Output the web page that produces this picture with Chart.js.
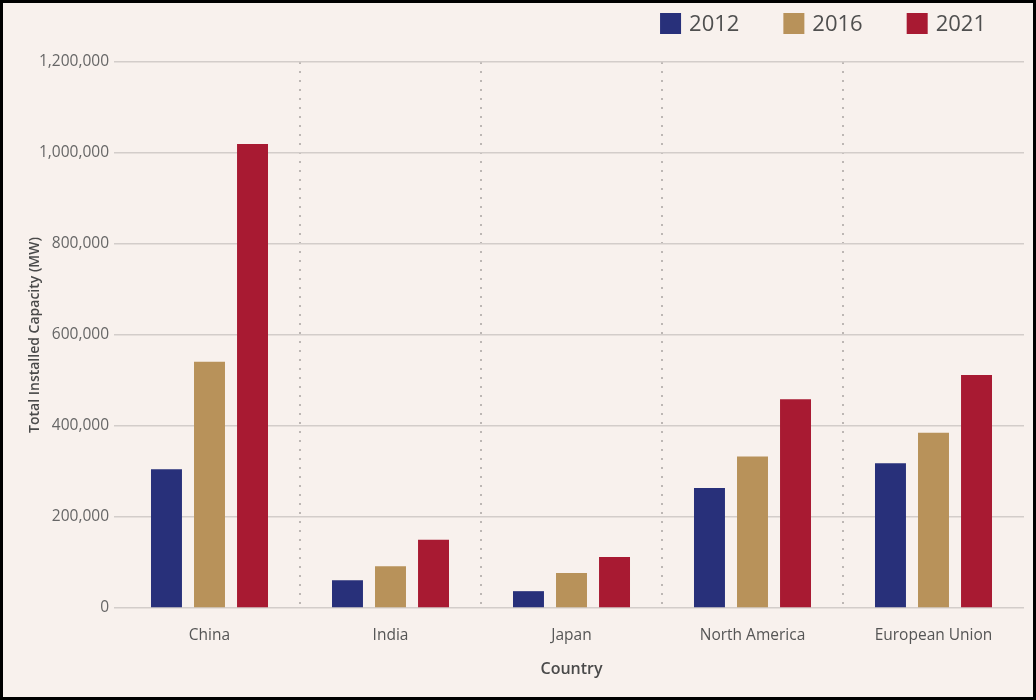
<!DOCTYPE html>
<html>
<head>
<meta charset="utf-8">
<script src="https://cdn.jsdelivr.net/npm/chart.js@4"></script>
<style>
  html, body { margin: 0; padding: 0; background: #fff; }
  #frame {
    width: 1036px;
    height: 700px;
    box-sizing: border-box;
    border: 3px solid #000;
    background: #f8f1ed;
  }
  #chart { display: block; }
</style>
</head>
<body>
<div id="frame">
  <canvas id="chart" width="1030" height="694"></canvas>
</div>
<script>
const countries = ["China", "India", "Japan", "North America", "European Union"];
const years = ["2012", "2016", "2021"];

// installed capacity in MW
const cap2012 = [305000, 61000, 37000, 264000, 318000];
const cap2016 = [541000, 92000, 77000, 333000, 385000];
const cap2021 = [1020000, 150000, 112000, 459000, 512000];

const yearColors = ["#28307a", "#b8925a", "#a81a32"];

// legend drawn in the top-right corner, with wide spacing between entries
const cornerLegend = {
  id: "cornerLegend",
  afterDraw(chart) {
    const ctx = chart.ctx;
    const box = 21;
    const gap = 8;
    const spacing = 44;
    ctx.save();
    ctx.font = "22px 'Open Sans'";
    ctx.textBaseline = "middle";
    const items = chart.data.datasets.map((ds) => ({
      label: ds.label,
      color: ds.backgroundColor,
      w: box + gap + ctx.measureText(ds.label).width,
    }));
    const total = items.reduce((s, it) => s + it.w, 0) + spacing * (items.length - 1);
    let x = 983 - total;
    const y = 10;
    items.forEach((it) => {
      ctx.fillStyle = it.color;
      ctx.fillRect(x, y, box, box);
      ctx.fillStyle = "#4f4f4f";
      ctx.fillText(it.label, x + box + gap, y + box / 2 + 1);
      x += it.w + spacing;
    });
    ctx.restore();
  },
};

new Chart(document.getElementById("chart"), {
  type: "bar",
  data: {
    labels: countries,
    datasets: [
      { label: years[0], data: cap2012, backgroundColor: yearColors[0] },
      { label: years[1], data: cap2016, backgroundColor: yearColors[1] },
      { label: years[2], data: cap2021, backgroundColor: yearColors[2] },
    ],
  },
  options: {
    responsive: false,
    animation: false,
    categoryPercentage: 0.713,
    barPercentage: 0.72,
    layout: { padding: { top: 59, right: 9, bottom: 0, left: 0 } },
    plugins: {
      legend: { display: false },
      tooltip: { enabled: false },
    },
    scales: {
      x: {
        afterFit: (scale) => { scale.height = 89; },
        grid: {
          offset: true,
          drawTicks: false,
          lineWidth: 2,
          // only the separators between countries, not the outer edges
          color: (ctx) => (ctx.index > 0 && ctx.index < countries.length ? "#bdb7b4" : "transparent"),
        },
        border: { display: false, dash: [2, 7] },
        ticks: {
          padding: 18,
          color: "#555",
          font: { family: "Open Sans", size: 15.5 },
        },
        title: {
          display: true,
          text: "Country",
          color: "#4a4a4a",
          padding: { top: 18, bottom: 18 },
          font: { family: "Open Sans", size: 16, weight: 600 },
        },
      },
      y: {
        min: 0,
        max: 1200000,
        afterFit: (scale) => { scale.width = 116; },
        grid: {
          color: "#d3cdca",
          lineWidth: 1.5,
          tickLength: 5,
        },
        border: { display: false },
        ticks: {
          stepSize: 200000,
          padding: 5,
          color: "#666",
          font: { family: "Open Sans", size: 15.5 },
          callback: (v) => v.toLocaleString("en-US"),
        },
        title: {
          display: true,
          text: "Total Installed Capacity (MW)",
          color: "#4a4a4a",
          padding: { top: 24, bottom: 24 },
          font: { family: "Open Sans", size: 14, weight: 600 },
        },
      },
    },
  },
  plugins: [cornerLegend],
});
</script>
</body>
</html>
